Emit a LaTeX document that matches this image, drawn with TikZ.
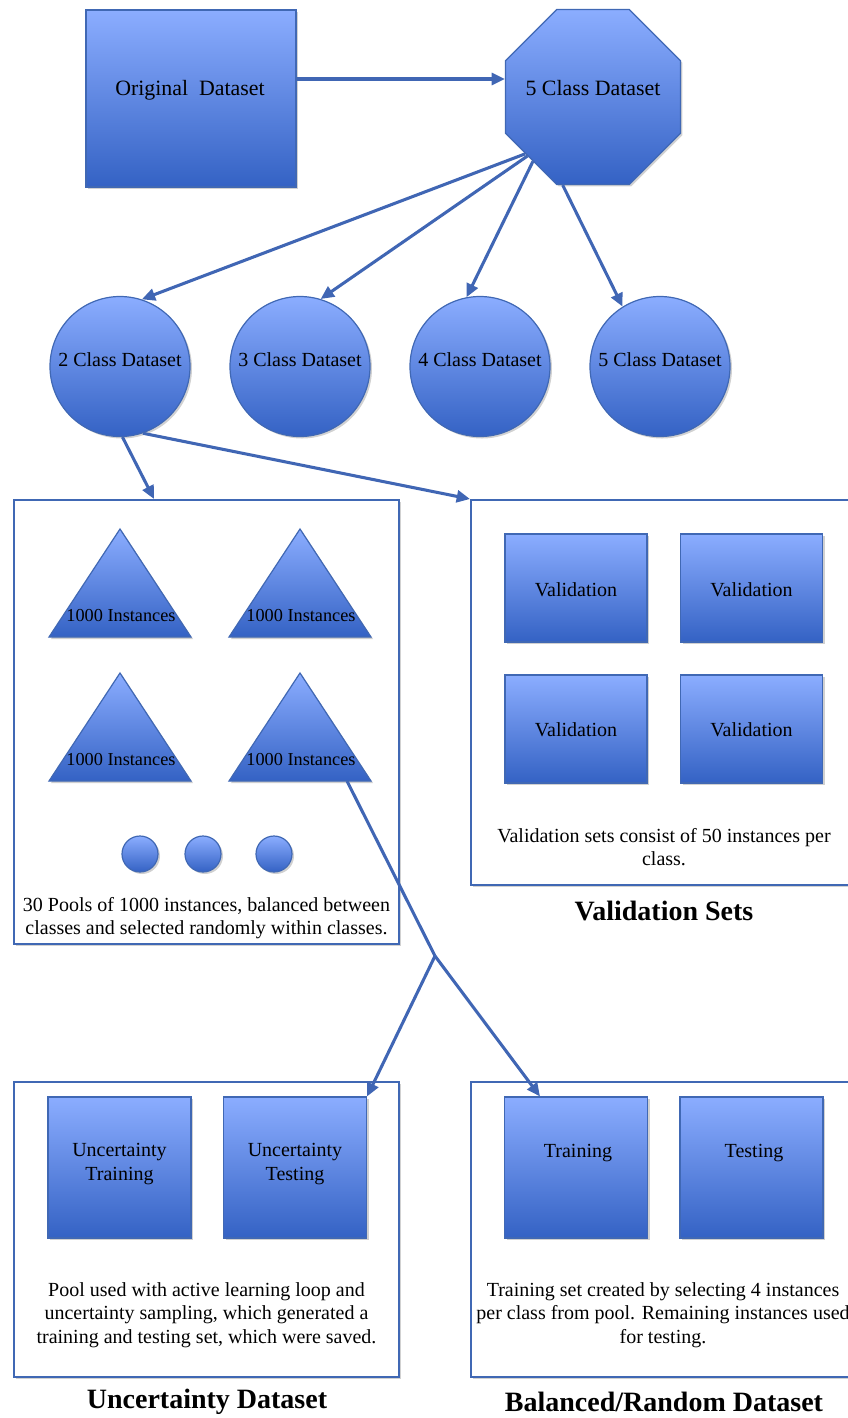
\documentclass[tikz,border=0pt]{standalone}
\usepackage{fontspec}
\setmainfont{Liberation Serif}
\usetikzlibrary{shapes.geometric,arrows.meta,shadows}
\definecolor{topc}{RGB}{139,173,255}
\definecolor{botc}{RGB}{52,98,196}
\definecolor{edgec}{RGB}{64,104,180}
\definecolor{linec}{RGB}{64,102,180}
\tikzset{
  shd/.style={drop shadow={shadow xshift=1.5pt,shadow yshift=-1.5pt,opacity=0.3,fill=black!60}},
  bluefill/.style={top color=topc,bottom color=botc,draw=edgec,line width=0.9pt,shd},
  sqbox/.style={bluefill,rectangle,inner sep=0pt},
  rnd/.style={bluefill,circle,inner sep=0pt},
  octa/.style={bluefill,regular polygon,regular polygon sides=8,inner sep=0pt},
  container/.style={draw=edgec,line width=1.5pt,fill=white,rectangle,inner sep=0pt,shd},
  lbl/.style={font=\fontsize{15}{17.5}\selectfont,align=center,inner sep=0pt},
  biglbl/.style={font=\fontsize{16.4}{19}\selectfont,align=center,inner sep=0pt},
  slbl/.style={font=\fontsize{13.7}{16}\selectfont,align=center,inner sep=0pt},
  ttl/.style={font=\fontsize{21}{24}\selectfont\bfseries,inner sep=0pt},
  conn/.style={draw=linec,line width=2.3pt,-{Triangle[length=10pt,width=9pt]}},
  plainconn/.style={draw=linec,line width=2.3pt},
}
\begin{document}
\begin{tikzpicture}[x=0.75pt,y=-0.75pt]
\useasboundingbox (0,0) rectangle (848,1418);

% containers
\node[container,minimum width=288.75pt,minimum height=333pt] (pool) at (206.5,722) {};
\node[container,minimum width=285pt,minimum height=288.75pt] (val) at (661,692.5) {};
\node[container,minimum width=288.75pt,minimum height=221.25pt] (unc) at (206.5,1229.5) {};
\node[container,minimum width=285pt,minimum height=221.25pt] (bal) at (661,1229.5) {};

% top row
\node[sqbox,minimum width=157.5pt,minimum height=132.75pt] (orig) at (191,98.5) {};
\node[biglbl] (origt) at (190,90) {Original\ \ Dataset};
\node[octa,minimum size=142pt] (oct) at (593,97) {};
\node[biglbl] (octt) at (593,88) {5 Class Dataset};

% circles
\foreach \i/\x in {2/120,3/300,4/480,5/660}{
  \node[rnd,minimum size=105pt] (c\i) at (\x,366.5) {};
  \node[lbl] (c\i t) at (\x,360) {\i\ Class Dataset};
}

% triangles
\foreach \n/\x/\y in {a/120/529,b/300/529,c/120/673,d/300/673}{
  \path[bluefill] (\x,\y) -- (\x+71,\y+108) -- (\x-71,\y+108) -- cycle;
  \node[slbl] (tri\n) at (\x+1,\y+87) {1000 Instances};
}
\coordinate (t4) at (347,781);

% small circles
\node[rnd,minimum size=27pt] (d1) at (140,854) {};
\node[rnd,minimum size=27pt] (d2) at (203,854) {};
\node[rnd,minimum size=27pt] (d3) at (274,854) {};
\node[lbl] (poolt) at (206.5,918) {30 Pools of 1000 instances, balanced between\\classes and selected randomly within classes.};

% validation
\node[sqbox,minimum width=106.5pt,minimum height=81pt] (v1) at (576,588) {};
\node[sqbox,minimum width=106.5pt,minimum height=81pt] (v2) at (751.5,588) {};
\node[sqbox,minimum width=106.5pt,minimum height=81pt] (v3) at (576,729) {};
\node[sqbox,minimum width=106.5pt,minimum height=81pt] (v4) at (751.5,729) {};
\node[lbl] (v1t) at (576,590) {Validation};
\node[lbl] (v2t) at (751.5,590) {Validation};
\node[lbl] (v3t) at (576,730) {Validation};
\node[lbl] (v4t) at (751.5,730) {Validation};
\node[lbl] (valt) at (664,847) {Validation sets consist of 50 instances per\\class.};
\node[ttl] (valtt) at (664,911) {Validation Sets};

% bottom boxes
\node[sqbox,minimum width=107.25pt,minimum height=105.75pt] (utrain) at (119.5,1167.5) {};
\node[sqbox,minimum width=107.25pt,minimum height=105.75pt] (utest) at (295,1167.5) {};
\node[sqbox,minimum width=107.25pt,minimum height=105.75pt] (train) at (576,1167.5) {};
\node[sqbox,minimum width=107.25pt,minimum height=105.75pt] (test) at (751.5,1167.5) {};
\node[lbl] (utraint) at (119.5,1164) {Uncertainty\\Training};
\node[lbl] (utestt) at (295,1164) {Uncertainty\\Testing};
\node[lbl] (traint) at (578,1153) {Training};
\node[lbl] (testt) at (754,1153) {Testing};
\node[lbl] (unct) at (206.5,1315) {Pool used with active learning loop and\\uncertainty sampling, which generated a\\training and testing set, which were saved.};
\node[lbl] (balt) at (663,1315) {Training set created by selecting 4 instances\\per class from pool. Remaining instances used\\for testing.};
\node[ttl] (unctt) at (207,1402) {Uncertainty Dataset};
\node[ttl] (baltt) at (664,1402) {Balanced/Random Dataset};

% connectors
\draw[conn] (orig.east |- 0,79) -- (oct.west |- 0,79);
\draw[conn] (oct.220) -- (c2.72);
\draw[conn] (oct.222) -- (c3.73);
\draw[conn] (oct.227) -- (c4.101);
\draw[conn] (oct.251) -- (c5.122);
\draw[conn] (c2.272) -- (154,0 |- pool.north);
\draw[conn] (c2.289) -- (val.north west);
\coordinate (junc) at (435,956);
\draw[plainconn] (t4) -- (junc);
\draw[conn] (junc) -- (utest.north east);
\draw[conn] (junc) -- (train.north -| 540,0);
\end{tikzpicture}
\end{document}
